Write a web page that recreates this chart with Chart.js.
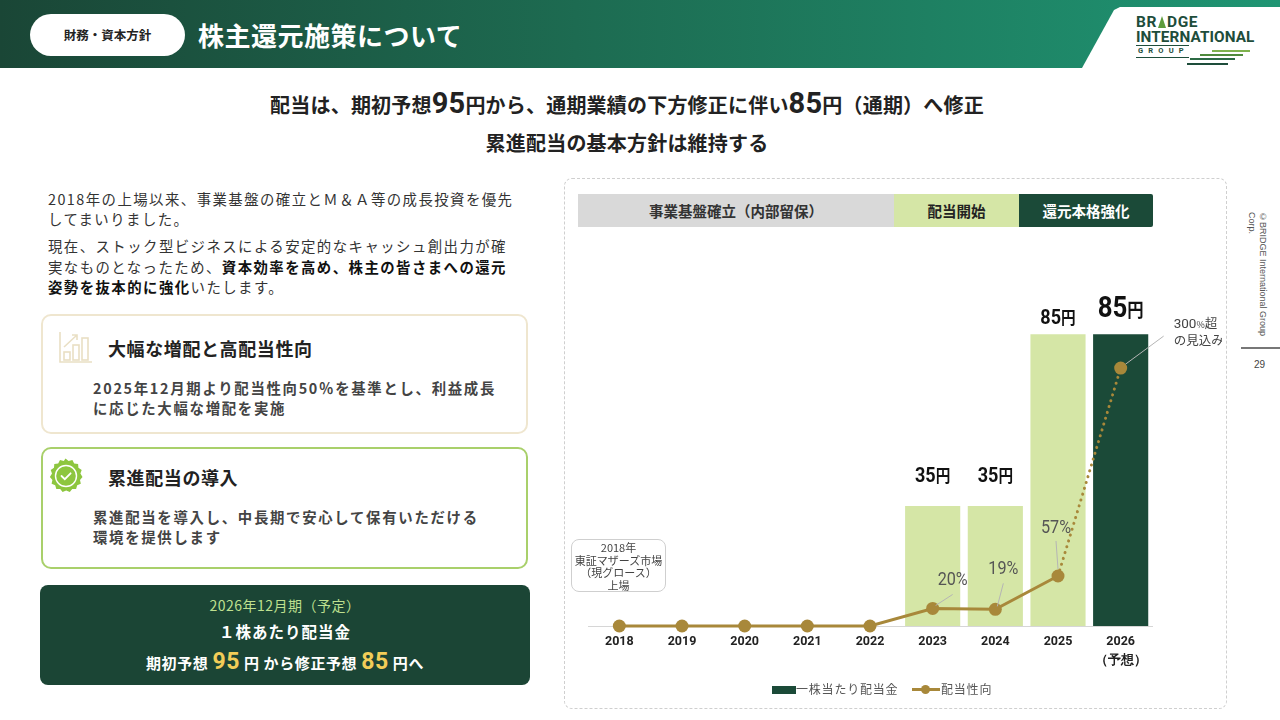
<!DOCTYPE html>
<html lang="ja">
<head>
<meta charset="utf-8">
<script src="https://cdn.jsdelivr.net/npm/chart.js@4.4.1/dist/chart.umd.min.js"></script>
<style>
  html, body { margin: 0; padding: 0; }
  body { width: 1280px; height: 720px; position: relative; overflow: hidden; background: #fff;
         font-family: "Noto Sans CJK JP", "Noto Sans", sans-serif; color: #333; }
  .abs { position: absolute; white-space: nowrap; }
  .header { position: absolute; left: 0; top: 0; width: 1280px; height: 68px;
            background: linear-gradient(90deg, #1a4636 0%, #1d6b51 45%, #1f9573 100%); }
  .logoPanel { position: absolute; left: 1076px; top: 7px; width: 204px; height: 61px; background: #fff;
               clip-path: polygon(44px 0, 204px 0, 204px 61px, 6px 61px, 38px 3px); }
  .pill { position: absolute; left: 30px; top: 14px; width: 155px; height: 42px; border-radius: 21px;
          background: #fff; font-size: 12.5px; font-weight: 700; color: #222; text-align: center; line-height: 42px; }
  .title { left: 198px; top: 16px; font-size: 26px; font-weight: 700; color: #fff; line-height: 38px; letter-spacing: 0.5px; }
  .headline { left: 0; width: 1254px; text-align: center; font-size: 20px; font-weight: 700; color: #222; letter-spacing: 0.2px; }
  .big { font-family: Roboto, sans-serif; font-size: 29px; font-weight: 700; }
  .intro { left: 48px; font-size: 14.4px; letter-spacing: 1.45px; line-height: 20px; color: #333; }
  .card { position: absolute; left: 41px; width: 487px; border-radius: 10px; background: #fff; }
  .cardTitle { font-size: 18px; font-weight: 700; color: #222; letter-spacing: 0.6px; }
  .cardBody { font-size: 14.4px; font-weight: 700; color: #444; letter-spacing: 1.7px; line-height: 19.5px; }
  .darkBox { position: absolute; left: 40px; top: 585px; width: 490px; height: 100px; border-radius: 8px; background: #1b4535; }
  .phase { position: absolute; top: 194px; height: 33px; line-height: 33px; text-align: center;
           font-size: 14.5px; font-weight: 700; }
  .chartBox { position: absolute; left: 564px; top: 178px; width: 661px; height: 529px;
              border: 1px dashed #cfcfcf; border-radius: 8px; }
  .note { position: absolute; left: 571px; top: 539px; width: 95px; height: 53px; border: 1px solid #cfcfcf;
          border-radius: 8px; font-size: 11px; line-height: 12.5px; color: #444; text-align: center;
          padding-top: 1px; box-sizing: border-box; background: #fff; }
  .legend { font-size: 12px; color: #555; letter-spacing: 0.8px; }
  .tri { display: inline-block; width: 0; height: 0; border-left: 4px solid transparent; border-right: 4px solid transparent;
         border-bottom: 12px solid #5d9b3c; margin: 0 1px; vertical-align: -1px; }
</style>
</head>
<body>
<div class="header"></div>
<div class="logoPanel"></div>
<div class="pill">財務・資本方針</div>
<div class="abs title">株主還元施策について</div>

<!-- logo -->
<div class="abs" style="left:1136px;top:13px;font-family:Roboto,sans-serif;font-weight:700;font-size:15.5px;color:#1e4d3b;letter-spacing:0.6px;line-height:18px;">BR<span class="tri"></span>DGE</div>
<div class="abs" style="left:1136px;top:28px;font-family:Roboto,sans-serif;font-weight:700;font-size:15.3px;color:#1e4d3b;line-height:18px;letter-spacing:0.1px;">INTERNATIONAL</div>
<div class="abs" style="left:1136px;top:45px;width:53px;height:1px;background:#1e4d3b;"></div>
<div class="abs" style="left:1138px;top:46px;font-family:Roboto,sans-serif;font-weight:700;font-size:7.5px;color:#1e4d3b;letter-spacing:5.2px;line-height:10px;">GROUP</div>
<div class="abs" style="left:1136px;top:57px;width:53px;height:1px;background:#1e4d3b;"></div>
<div class="abs" style="left:1212px;top:50px;width:38px;height:2px;background:#7fb24e;"></div>
<div class="abs" style="left:1200px;top:54px;width:43px;height:2px;background:#4f8a3c;"></div>
<div class="abs" style="left:1190px;top:58px;width:45px;height:2px;background:#2c6a44;"></div>
<div class="abs" style="left:1187px;top:63px;width:41px;height:2px;background:#1e4d3b;"></div>

<!-- headline -->
<div class="abs headline" style="top:86px;line-height:34px;">配当は、期初予想<span class="big">95</span>円から、通期業績の下方修正に伴い<span class="big">85</span>円（通期）へ修正</div>
<div class="abs headline" style="top:129px;line-height:28px;">累進配当の基本方針は維持する</div>

<!-- intro text -->
<div class="abs intro" style="top:189px;">2018年の上場以来、事業基盤の確立とＭ＆Ａ等の成長投資を優先<br>してまいりました。</div>
<div class="abs intro" style="top:236px;line-height:20.5px;">現在、ストック型ビジネスによる安定的なキャッシュ創出力が確<br>実なものとなったため、<b style="color:#111">資本効率を高め、株主の皆さまへの還元<br>姿勢を抜本的に強化</b>いたします。</div>

<!-- card 1 -->
<div class="card" style="top:314px;height:120px;border:2px solid #efe6cf;box-sizing:border-box;"></div>
<svg class="abs" style="left:58px;top:330px;" width="36" height="34" viewBox="0 0 36 34" fill="none" stroke="#e9dfc4" stroke-width="1.6">
  <path d="M2 2 V32 H34"/>
  <rect x="6" y="22" width="6" height="8"/>
  <rect x="15" y="15" width="6" height="15"/>
  <rect x="24" y="8" width="6" height="22"/>
  <path d="M6 17 L19 5 M14 5 H19 V10"/>
</svg>
<div class="abs cardTitle" style="left:108px;top:336px;line-height:24px;">大幅な増配と高配当性向</div>
<div class="abs cardBody" style="left:93px;top:378px;">2025年12月期より配当性向50％を基準とし、利益成長<br>に応じた大幅な増配を実施</div>

<!-- card 2 -->
<div class="card" style="top:447px;height:122px;border:2px solid #a9d06b;box-sizing:border-box;"></div>
<svg class="abs" style="left:47px;top:457px;" width="38" height="38" viewBox="0 0 38 38">
  <path fill="#8dc63f" d="M19 1 L22.1 3.4 L25.9 2.4 L27.7 5.9 L31.6 6.4 L31.9 10.3 L35.2 12.4 L33.9 16.1 L36 19.5 L33.5 22.5 L34.3 26.3 L30.7 27.8 L29.6 31.6 L25.7 31.4 L23.3 34.6 L19.7 33.1 L16.1 34.6 L13.7 31.4 L9.8 31.6 L8.7 27.8 L5.1 26.3 L5.9 22.5 L3.4 19.5 L5.5 16.1 L4.2 12.4 L7.5 10.3 L7.8 6.4 L11.7 5.9 L13.5 2.4 L17.3 3.4 Z" transform="translate(-0.5 0.5)"/>
  <circle cx="19" cy="19" r="10.5" fill="none" stroke="#fff" stroke-width="1.4"/>
  <path d="M14.5 19 L17.8 22.2 L23.6 16.3" fill="none" stroke="#fff" stroke-width="1.8" stroke-linecap="round"/>
</svg>
<div class="abs cardTitle" style="left:108px;top:465px;line-height:24px;">累進配当の導入</div>
<div class="abs cardBody" style="left:93px;top:507px;">累進配当を導入し、中長期で安心して保有いただける<br>環境を提供します</div>

<!-- dark box -->
<div class="darkBox"></div>
<div class="abs" style="left:40px;width:490px;text-align:center;top:595px;font-size:14px;color:#bfe08f;line-height:20px;letter-spacing:0.5px;">2026年12月期（予定）</div>
<div class="abs" style="left:40px;width:490px;text-align:center;top:620px;font-size:15.5px;font-weight:700;color:#fff;line-height:22px;letter-spacing:1px;">１株あたり配当金</div>
<div class="abs" style="left:40px;width:490px;text-align:center;top:648px;font-size:15px;font-weight:700;color:#fff;line-height:28px;letter-spacing:0.6px;">期初予想 <span style="font-family:Roboto,sans-serif;font-size:23px;color:#f2cd58;">95</span> 円 から修正予想 <span style="font-family:Roboto,sans-serif;font-size:23px;color:#f2cd58;">85</span> 円へ</div>

<!-- chart area -->
<div class="chartBox"></div>
<div class="phase" style="left:578px;width:316px;background:#d9d9d9;color:#333;">事業基盤確立（内部留保）</div>
<div class="phase" style="left:894px;width:125px;background:#d5e6a6;color:#222;">配当開始</div>
<div class="phase" style="left:1019px;width:134px;background:#1b4a38;color:#fff;border-radius:0 2px 2px 0;">還元本格強化</div>

<canvas id="chart" style="position:absolute;left:566px;top:232px;"></canvas>

<div class="note">2018年<br>東証マザーズ市場<br>（現グロース）<br>上場</div>

<div class="abs legend" style="left:772px;top:681px;line-height:16px;">
  <span style="display:inline-block;width:24px;height:8px;background:#1b4a38;vertical-align:middle;margin-top:-2px;"></span>一株当たり配当金
</div>
<div class="abs" style="left:912px;top:688px;width:28px;height:3px;background:#a8883a;"></div>
<div class="abs" style="left:921px;top:685px;width:9px;height:9px;border-radius:50%;background:#a8883a;"></div>
<div class="abs legend" style="left:941px;top:681px;line-height:16px;">配当性向</div>

<!-- side -->
<div class="abs" style="left:1246px;top:212px;writing-mode:vertical-rl;font-family:'Liberation Sans',Arial,sans-serif;font-size:9px;line-height:11px;color:#555;">©BRIDGE International Group<br>Corp.</div>
<div class="abs" style="left:1241px;top:347px;width:39px;height:2px;background:#777;"></div>
<div class="abs" style="left:1254px;top:359px;font-family:'Liberation Sans',Arial,sans-serif;font-size:10px;color:#444;">29</div>

<script>
// 決算期
const years = ['2018', '2019', '2020', '2021', '2022', '2023', '2024', '2025', ['2026', '（予想）']];
// 一株当たり配当金（円）
const dividend = [0, 0, 0, 0, 0, 35, 35, 85, 85];
// 配当性向（%）
const payoutRatio = [0, 0, 0, 0, 0, 20, 19, 57, 294];
// 予想の年
const forecastIndex = 8;

const LIGHT = '#d5e6a6';
const DARK = '#1b4a38';
const GOLD = '#a8883a';

// 棒の上の金額ラベル
const amountLabels = {
  id: 'amountLabels',
  afterDatasetsDraw(chart) {
    const ctx = chart.ctx;
    const bars = chart.getDatasetMeta(0).data;
    const points = chart.getDatasetMeta(1).data;
    ctx.save();

    bars.forEach((bar, i) => {
      const v = dividend[i];
      if (!v) return;
      const big = i === forecastIndex;
      const gap = big ? 17 : (i === 7 ? 10 : 24);
      const numSize = big ? 30 : 21;
      const unitSize = big ? 19 : 17;
      const sx = 0.86;
      ctx.font = '700 ' + numSize + 'px Roboto';
      const wn = ctx.measureText(String(v)).width;
      ctx.font = '700 ' + unitSize + 'px "Noto Sans CJK JP"';
      const wu = ctx.measureText('円').width;
      ctx.save();
      ctx.translate(bar.x, bar.y - gap);
      ctx.scale(sx, 1);
      ctx.fillStyle = '#111';
      ctx.textBaseline = 'alphabetic';
      ctx.textAlign = 'left';
      const start = -(wn + wu) / 2;
      ctx.font = '700 ' + numSize + 'px Roboto';
      ctx.fillText(String(v), start, 0);
      ctx.font = '700 ' + unitSize + 'px "Noto Sans CJK JP"';
      ctx.fillText('円', start + wn, 0);
      ctx.restore();
    });

    // 配当性向のコールアウト
    const callouts = {
      5: { tx: 20, ty: -23, l: [20, -14, 3, -3] },
      6: { tx: 8, ty: -35, l: [8, -26, 2, -3] },
      7: { tx: -2, ty: -43, l: [-2, -35, 0, -7] }
    };
    Object.keys(callouts).forEach(k => {
      const i = Number(k);
      const p = points[i];
      const c = callouts[k];
      ctx.strokeStyle = '#b5b5b5';
      ctx.lineWidth = 1;
      ctx.beginPath();
      ctx.moveTo(p.x + c.l[0], p.y + c.l[1]);
      ctx.lineTo(p.x + c.l[2], p.y + c.l[3]);
      ctx.stroke();
      ctx.save();
      ctx.translate(p.x + c.tx, p.y + c.ty);
      ctx.scale(0.9, 1);
      ctx.font = '400 18px Roboto';
      ctx.fillStyle = '#555';
      ctx.textAlign = 'center';
      ctx.textBaseline = 'alphabetic';
      ctx.fillText(payoutRatio[i] + '%', 0, 0);
      ctx.restore();
    });

    // 2026年（予想）の注記
    const pf = points[forecastIndex];
    ctx.strokeStyle = '#b5b5b5';
    ctx.beginPath();
    ctx.moveTo(pf.x + 43, pf.y - 32);
    ctx.lineTo(pf.x + 5, pf.y - 4);
    ctx.stroke();
    ctx.fillStyle = '#444';
    ctx.textAlign = 'left';
    let x = pf.x + 53;
    const y1 = pf.y - 40;
    ctx.font = '400 13.5px Roboto';
    ctx.fillText('300', x, y1);
    x += ctx.measureText('300').width;
    ctx.font = '400 9px "Noto Sans CJK JP"';
    ctx.fillText('%', x, y1);
    x += ctx.measureText('%').width;
    ctx.font = '400 12.5px "Noto Sans CJK JP"';
    ctx.fillText('超', x, y1);
    ctx.fillText('の見込み', pf.x + 53, y1 + 17);
    ctx.restore();
  }
};

const ctx = document.getElementById('chart').getContext('2d');
ctx.canvas.width = 656;
ctx.canvas.height = 454;

new Chart(ctx, {
  type: 'bar',
  data: {
    labels: years,
    datasets: [{
      type: 'bar',
      label: '一株当たり配当金',
      data: dividend,
      yAxisID: 'y',
      backgroundColor: c => c.dataIndex === forecastIndex ? DARK : LIGHT,
      borderWidth: 0,
      categoryPercentage: 1,
      barPercentage: 0.88,
      order: 2
    }, {
      type: 'line',
      label: '配当性向',
      data: payoutRatio,
      yAxisID: 'y1',
      clip: false,
      borderColor: GOLD,
      backgroundColor: GOLD,
      borderWidth: 3,
      pointRadius: 6.5,
      pointHoverRadius: 6.5,
      pointBackgroundColor: GOLD,
      pointBorderWidth: 0,
      tension: 0,
      segment: {
        borderDash: c => c.p1DataIndex === forecastIndex ? [0.1, 6] : undefined
      },
      borderCapStyle: 'round',
      order: 1
    }]
  },
  options: {
    responsive: false,
    animation: false,
    layout: { padding: { left: 22, right: 70, top: 8, bottom: 0 } },
    plugins: {
      legend: { display: false },
      tooltip: { enabled: false }
    },
    scales: {
      x: {
        grid: { display: false, drawTicks: false },
        border: { display: true, color: '#d6d6d6', width: 1 },
        ticks: {
          color: '#222',
          padding: 6,
          font: { family: 'Roboto', weight: '700', size: 12.5, lineHeight: 1.55 }
        },
        afterFit(scale) { scale.height = 60; }
      },
      y: { display: false, min: 0, max: 112.5 },
      y1: { display: false, min: 0, max: 440, position: 'right' }
    }
  },
  plugins: [amountLabels]
});
</script>
</body>
</html>
